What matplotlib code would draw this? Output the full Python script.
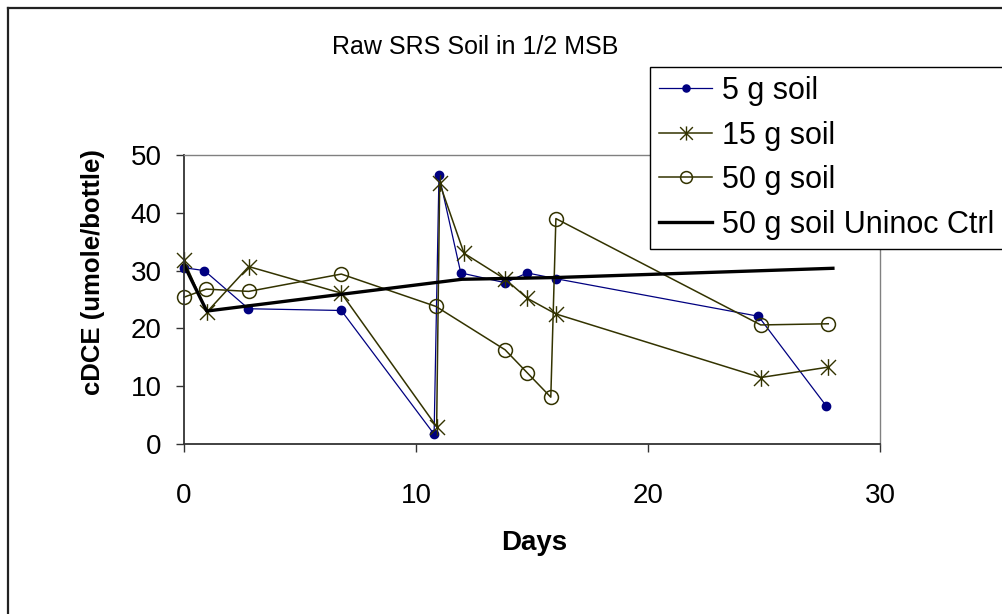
import matplotlib
matplotlib.use("Agg")
import matplotlib.pyplot as plt
from matplotlib.path import Path
from matplotlib.lines import Line2D

plt.rcParams['font.family'] = ['Liberation Sans', 'DejaVu Sans']

# ---------------- data ----------------
days_5g = [0, 0.88, 2.78, 6.78, 10.78, 10.99, 11.93, 13.85, 14.79, 16.03, 24.76, 27.68]
cdce_5g = [30.5, 30.0, 23.4, 23.1, 1.7, 46.5, 29.6, 27.9, 29.6, 28.6, 22.1, 6.6]

days_15g = [0, 0.98, 2.79, 6.78, 10.89, 11.02, 12.07, 13.85, 14.8, 16.03, 24.86, 27.77]
cdce_15g = [31.8, 22.8, 30.7, 26.1, 3.0, 45.1, 33.0, 28.5, 25.2, 22.5, 11.5, 13.3]

days_50g = [0, 0.96, 2.79, 6.78, 10.86, 13.84, 14.8, 15.81, 16.03, 24.86, 27.77]
cdce_50g = [25.4, 26.8, 26.4, 29.4, 23.8, 16.3, 12.3, 8.1, 39.0, 20.6, 20.8]

days_ctrl = [0, 0.98, 11.98, 16.03, 27.97]
cdce_ctrl = [31.0, 23.0, 28.5, 28.8, 30.4]

series_labels = ['5 g soil', '15 g soil', '50 g soil', '50 g soil Uninoc Ctrl']
x_ticks = [0, 10, 20, 30]
y_ticks = [0, 10, 20, 30, 40, 50]
title_text = 'Raw SRS Soil in 1/2 MSB'
x_label = 'Days'
y_label = 'cDCE (umole/bottle)'

# ---------------- style ----------------
W, H = 1002, 614
BLUE = '#000080'
OLIVE = '#333300'

star = Path([(0, -1), (0, 1), (-0.9, -0.9), (0.9, 0.9), (-0.9, 0.9), (0.9, -0.9)],
            [Path.MOVETO, Path.LINETO, Path.MOVETO, Path.LINETO, Path.MOVETO, Path.LINETO])

fig = plt.figure(figsize=(W / 100, H / 100), dpi=100)
ax = fig.add_axes([184 / W, 1 - 444 / H, (880 - 184) / W, (444 - 155) / H])

ax.plot(days_5g, cdce_5g, color=BLUE, lw=0.9, marker='o', ms=6,
        mfc=BLUE, mec=BLUE, label=series_labels[0], clip_on=False)
ax.plot(days_15g, cdce_15g, color=OLIVE, lw=1.1, marker=star, ms=12,
        mec=OLIVE, mew=1.0, label=series_labels[1], clip_on=False)
ax.plot(days_50g, cdce_50g, color=OLIVE, lw=1.1, marker='o', ms=10,
        mfc='none', mec=OLIVE, mew=1.1, label=series_labels[2], clip_on=False)
ax.plot(days_ctrl, cdce_ctrl, color='black', lw=2.4, label=series_labels[3],
        clip_on=False)

ax.set_xlim(0, 30)
ax.set_ylim(0, 50)
ax.set_xticks(x_ticks)
ax.set_yticks(y_ticks)
ax.tick_params(axis='both', direction='out', length=6, width=1, colors='#333333',
               labelcolor='black', labelsize=20)
ax.tick_params(axis='x', pad=22)
ax.tick_params(axis='y', pad=10)

for s in ['left', 'bottom']:
    ax.spines[s].set_color('#333333')
    ax.spines[s].set_linewidth(1.3)
for s in ['top', 'right']:
    ax.spines[s].set_color('#808080')
    ax.spines[s].set_linewidth(1.0)

ax.set_xlabel(x_label, fontsize=20, fontweight='bold')
ax.xaxis.set_label_coords((534 - 184) / 696, (444 - 543) / 289)
ax.xaxis.label.set_va('center')
ax.set_ylabel(y_label, fontsize=18.5, fontweight='bold')
ax.yaxis.set_label_coords((93 - 184) / 696, (444 - 272) / 289)
ax.yaxis.label.set_va('center')

fig.text(475 / W, 1 - 47 / H, title_text, ha='center', va='center', fontsize=18)

# outer chart border (left and top visible)
fig.add_artist(Line2D([8 / W, 8 / W], [0, 1 - 8 / H], color='#222222', lw=1.6))
fig.add_artist(Line2D([8 / W, 1], [1 - 8 / H, 1 - 8 / H], color='#222222', lw=1.6))

leg = ax.legend(loc='upper left', bbox_to_anchor=(650 / W, 1 - 67 / H, 0.4, 0),
                bbox_transform=fig.transFigure, mode='expand', borderaxespad=0,
                fontsize=22, frameon=True, fancybox=False, framealpha=1,
                edgecolor='black', handlelength=1.75, handletextpad=0.3,
                labelspacing=0.48, borderpad=0.29, markerscale=0.85)
leg.get_frame().set_linewidth(1.0)
leg.set_zorder(10)

fig.savefig('out.png', dpi=100)
